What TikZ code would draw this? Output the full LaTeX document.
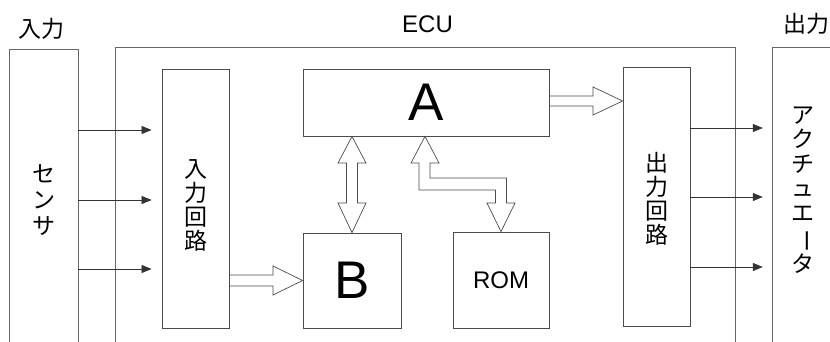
\documentclass[tikz,border=0pt]{standalone}
\usepackage{fontspec}
\setmainfont{Liberation Sans}
\newfontfamily\jp{Noto Sans CJK JP}
\usetikzlibrary{arrows.meta,calc,backgrounds}
\begin{document}
\begin{tikzpicture}[x=1pt,y=-1pt,
  box/.style={draw=black!70, line width=0.8pt, rectangle, inner sep=0pt},
  outline/.style={draw=black!60, line width=0.9pt},
  sig/.style={draw=black!80, line width=0.7pt, -{Triangle[length=10pt,width=8pt]}, shorten >=10pt},
  hollow/.style={draw=black!70, line width=0.7pt, fill=white, line join=miter},
  vt/.style={font=\jp\fontsize{23}{24}\selectfont, align=center, inner sep=0pt},
  jl/.style={font=\jp\fontsize{23}{26}\selectfont, inner sep=0pt},
  big/.style={font=\fontsize{53}{60}\selectfont},
  mid/.style={font=\fontsize{24}{28}\selectfont, inner sep=0pt}]
\useasboundingbox (0,0) rectangle (830,342);

% open outer boxes
\node[minimum width=68pt, minimum height=300pt, inner sep=0pt, vt, font=\jp\fontsize{23}{26}\selectfont] (sensor) at (44,200) {セ\\ン\\サ};
\draw[outline] (sensor.south west) -- (sensor.north west) -- (sensor.north east) -- (sensor.south east);

\node[minimum width=619pt, minimum height=302pt, inner sep=0pt] (ecu) at (425.5,199) {};
\draw[outline] (ecu.south west) -- (ecu.north west) -- (ecu.north east) -- (ecu.south east);

\node[minimum width=90pt, minimum height=302pt, inner sep=0pt] (act) at (818,198.5) {};
\draw[outline] (act.south west) -- (act.north west) -- (act.north east);

% labels
\node[jl] (inlab) at (41.5,28.5) {入力};
\node[mid] (eculab) at (427.5,24) {ECU};
\node[jl, anchor=west] (outlab) at (783,24) {出力};

% inner blocks
\node[box, minimum width=67pt, minimum height=259pt] (inc) at (195.5,198.5) {};
\node[vt] (inctext) at (196,205) {入\\力\\回\\路};
\node[box, minimum width=67pt, minimum height=259pt] (outc) at (656.5,196.5) {};
\node[vt] (outctext) at (656.5,198.5) {出\\力\\回\\路};
\node[box, big, minimum width=246pt, minimum height=67pt] (A) at (426,102.5) {A};
\node[box, big, minimum width=98pt, minimum height=95pt] (B) at (352,280.5) {B};
\node[box, mid, minimum width=96pt, minimum height=96pt] (ROM) at (501,280) {ROM};
\node[vt, font=\jp\fontsize{23}{24.5}\selectfont] (acttext) at (803,190) {ア\\ク\\チ\\ュ\\エ\\\rotatebox[origin=c]{-90}{ー}\\タ};

% signal arrows
\foreach \y in {130,200,269}
  \draw[sig] (sensor.east |- 0,\y) -- (inc.west |- 0,\y);
\foreach \y in {128,197,267}
  \draw[sig] (outc.east |- 0,\y) -- (act.west |- 0,\y);

% hollow bus arrows
\begin{scope}[on background layer]
\draw[hollow] (inc.east |- 0,275) -- (273,275) -- (273,266) -- (B.west) -- (273,295) -- (273,286) -- (inc.east |- 0,286);
\draw[hollow] (A.east |- 0,96) -- (593,96) -- (593,87) -- (outc.west |- 0,101) -- (593,115) -- (593,106) -- (A.east |- 0,106);
\draw[hollow] (A.south -| B.north) -- (366,163) -- (357.5,163) -- (357.5,203) -- (366,203) -- (B.north)
  -- (338,203) -- (346.5,203) -- (346.5,163) -- (338,163) -- cycle;
\draw[hollow] (A.south -| 425,0) -- (439,163) -- (430,163) -- (430,178) -- (506.5,178) -- (506.5,203) -- (515,203)
  -- (ROM.north) -- (487,203) -- (495.5,203) -- (495.5,190) -- (419,190) -- (419,163) -- (411,163) -- cycle;
\end{scope}
\end{tikzpicture}
\end{document}
